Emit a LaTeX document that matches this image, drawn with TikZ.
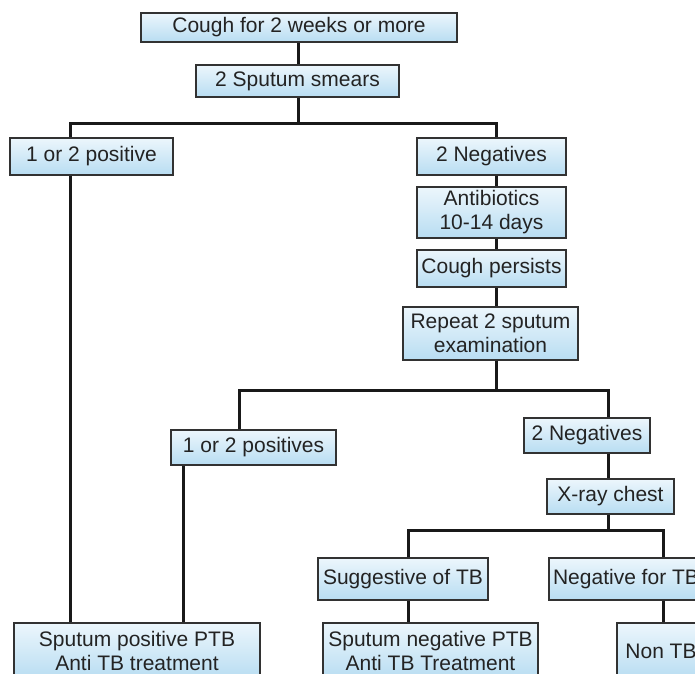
\documentclass[tikz,border=0pt]{standalone}
\usepackage{fontspec}
\setmainfont{Liberation Sans}
\definecolor{boxtop}{RGB}{236,246,252}
\definecolor{boxbot}{RGB}{184,221,242}
\definecolor{boxline}{RGB}{50,50,50}
\definecolor{txt}{RGB}{35,35,35}
\begin{document}
\begin{tikzpicture}[x=1pt,y=-1pt,
  tbox/.style={draw=boxline, line width=1.3pt, top color=boxtop, bottom color=boxbot,
    text=txt, font=\fontsize{21}{24}\selectfont, align=center, inner sep=0pt},
  conn/.style={line width=3pt, draw=black!90}]
\useasboundingbox (0,0) rectangle (695,673);
\clip (0,0) rectangle (695,673);
\fill[white] (0,0) rectangle (695,673);

\node[tbox, minimum width=316pt, minimum height=29pt] (cough) at (299,27.5) {Cough for 2 weeks or more};
\node[tbox, minimum width=203pt, minimum height=32pt] (smear) at (297.5,81) {2 Sputum smears};
\node[tbox, minimum width=163pt, minimum height=37pt] (pos1) at (91.5,156.5) {1 or 2 positive};
\node[tbox, minimum width=149pt, minimum height=37pt] (neg1) at (491.5,156.5) {2 Negatives};
\node[tbox, minimum width=149pt, minimum height=51pt] (anti) at (491.5,212.5) {Antibiotics\\10-14 days};
\node[tbox, minimum width=149pt, minimum height=37pt] (persist) at (491.5,268.5) {Cough persists};
\node[tbox, minimum width=175pt, minimum height=53pt] (repeat) at (490.5,333.5) {Repeat 2 sputum\\examination};
\node[tbox, minimum width=165pt, minimum height=35pt] (pos2) at (253.5,447.5) {1 or 2 positives};
\node[tbox, minimum width=126pt, minimum height=35pt] (neg2) at (587,435.5) {2 Negatives};
\node[tbox, minimum width=127pt, minimum height=35pt] (xray) at (610.5,496.5) {X-ray chest};
\node[tbox, minimum width=170pt, minimum height=42pt] (sugg) at (403,579) {Suggestive of TB};
\node[tbox, minimum width=154pt, minimum height=42pt] (negtb) at (626,579) {Negative for TB};
\node[tbox, minimum width=246pt, minimum height=56pt] (spos) at (137,651) {Sputum positive PTB\\Anti TB treatment};
\node[tbox, minimum width=215pt, minimum height=56pt] (sneg) at (430.5,651) {Sputum negative PTB\\Anti TB Treatment};
\node[tbox, minimum width=88pt, minimum height=56pt] (nontb) at (661,651) {Non TB};

\coordinate (bar1) at (298,123);
\coordinate (xA) at (70,0);
\coordinate (xB) at (496,0);
\coordinate (bar2) at (496,390);
\coordinate (xC) at (239,0);
\coordinate (xD) at (608,0);
\coordinate (xE) at (183,0);
\coordinate (bar3) at (608,530);
\coordinate (xF) at (408,0);
\coordinate (xG) at (663,0);

\draw[conn] (cough.south -| bar1) -- (smear.north -| bar1);
\draw[conn] (smear.south -| bar1) -- (bar1);
\draw[conn] (pos1.north -| xA) |- (bar1) -| (neg1.north -| xB);
\draw[conn] (neg1.south -| xB) -- (anti.north -| xB);
\draw[conn] (anti.south -| xB) -- (persist.north -| xB);
\draw[conn] (persist.south -| xB) -- (repeat.north -| xB);
\draw[conn] (repeat.south -| xB) -- (bar2);
\draw[conn] (pos2.north -| xC) |- (bar2) -| (neg2.north -| xD);
\draw[conn] (neg2.south -| xD) -- (xray.north -| xD);
\draw[conn] (xray.south -| xD) -- (bar3);
\draw[conn] (sugg.north -| xF) |- (bar3) -| (negtb.north -| xG);
\draw[conn] (sugg.south -| xF) -- (sneg.north -| xF);
\draw[conn] (negtb.south -| xG) -- (nontb.north -| xG);
\draw[conn] (pos1.south -| xA) -- (spos.north -| xA);
\draw[conn] (pos2.south -| xE) -- (spos.north -| xE);
\end{tikzpicture}
\end{document}
